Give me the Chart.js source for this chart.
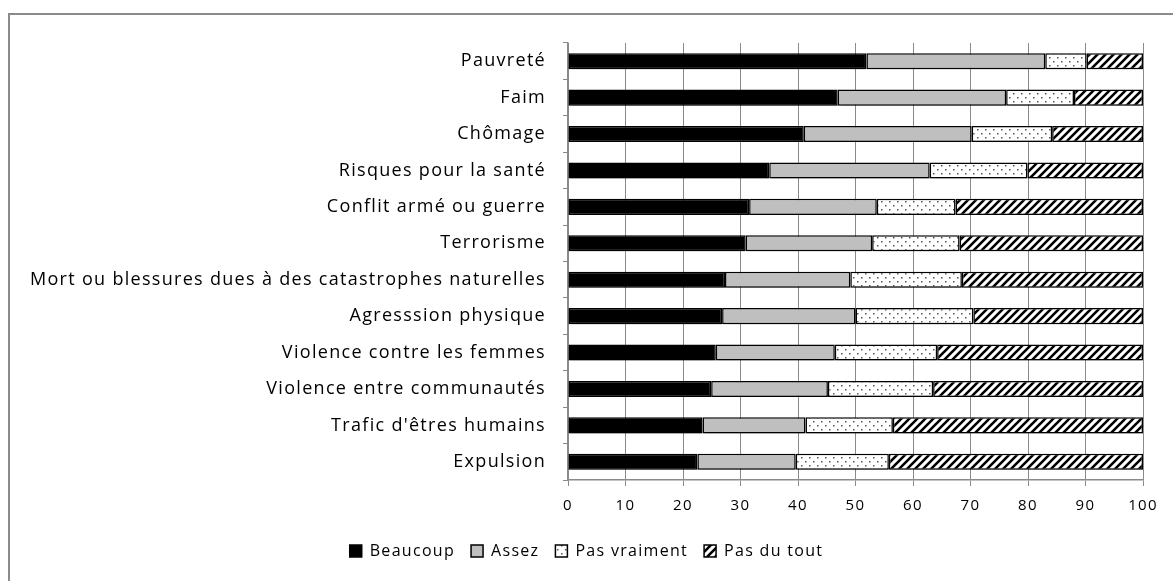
<!DOCTYPE HTML>
<html>
<head>
    <title>Insécurité</title>
    <meta charset="utf-8" />
    <script src="https://cdn.jsdelivr.net/npm/chart.js"></script>
    <style>
        html, body {
            margin: 0;
            padding: 0;
            background: #fff;
            overflow: hidden;
        }
        #frame {
            position: absolute;
            left: 8px;
            top: 13px;
            width: 1200px;
            height: 600px;
            border: 2px solid #8a8a8a;
        }
        #chartBox {
            position: absolute;
            left: 0;
            top: 0;
            width: 1173px;
            height: 581px;
        }
    </style>
</head>
<body>

<div id="frame"></div>
<div id="chartBox">
    <canvas id="riskChart"></canvas>
</div>

<script>
    const categories = [
        'Pauvreté', 'Faim', 'Chômage', 'Risques pour la santé', 'Conflit armé ou guerre',
        'Terrorisme', 'Mort ou blessures dues à des catastrophes naturelles', 'Agresssion physique',
        'Violence contre les femmes', 'Violence entre communautés', "Trafic d'êtres humains", 'Expulsion'
    ];
    const beaucoup    = [51.9, 46.9, 41.0, 35.0, 31.5, 30.9, 27.3, 26.8, 25.7, 24.9, 23.4, 22.5];
    const assez       = [31.1, 29.3, 29.2, 27.9, 22.2, 22.0, 21.8, 23.2, 20.7, 20.3, 17.9, 17.1];
    const pasVraiment = [7.2, 11.8, 14.0, 17.0, 13.7, 15.2, 19.4, 20.5, 17.8, 18.3, 15.2, 16.2];
    const pasDuTout   = [9.8, 12.0, 15.8, 20.1, 32.6, 31.9, 31.5, 29.5, 35.8, 36.5, 43.5, 44.2];
    const xTicks = [0, 10, 20, 30, 40, 50, 60, 70, 80, 90, 100];

    const FONT = "'Open Sans', sans-serif";

    // motifs de remplissage
    function dotPattern() {
        const c = document.createElement('canvas');
        c.width = 8; c.height = 8;
        const g = c.getContext('2d');
        g.fillStyle = '#fff';
        g.fillRect(0, 0, 8, 8);
        g.fillStyle = '#555';
        g.fillRect(1, 1, 1.5, 1.5);
        g.fillRect(5, 5, 1.5, 1.5);
        return g.createPattern(c, 'repeat');
    }

    function stripePattern() {
        const c = document.createElement('canvas');
        c.width = 8; c.height = 8;
        const g = c.getContext('2d');
        g.fillStyle = '#fff';
        g.fillRect(0, 0, 8, 8);
        g.strokeStyle = '#000';
        g.lineWidth = 2.6;
        g.beginPath();
        g.moveTo(-2, 10); g.lineTo(10, -2);
        g.moveTo(-6, 6); g.lineTo(6, -6);
        g.moveTo(2, 14); g.lineTo(14, 2);
        g.stroke();
        return g.createPattern(c, 'repeat');
    }

    // texte un peu plus large (comme Calibri étiré dans l'original)
    const spacingPlugin = {
        id: 'spacing',
        beforeLayout(chart) { chart.ctx.letterSpacing = '1.3px'; },
        beforeDraw(chart) { chart.ctx.letterSpacing = '1.3px'; }
    };

    const shadowPlugin = {
        id: 'barShadow',
        beforeDatasetsDraw(chart) {
            const ctx = chart.ctx;
            ctx.save();
            ctx.shadowColor = 'rgba(0,0,0,0.3)';
            ctx.shadowBlur = 5;
            ctx.shadowOffsetX = 1;
            ctx.shadowOffsetY = 3;
        },
        afterDatasetsDraw(chart) {
            chart.ctx.restore();
        }
    };

    function makeSet(label, data, fill) {
        return {
            label: label,
            data: data,
            backgroundColor: fill,
            borderColor: '#000',
            borderWidth: 1.5,
            borderSkipped: false,
            barPercentage: 0.44,
            categoryPercentage: 1
        };
    }

    const ctx = document.getElementById('riskChart').getContext('2d');
    const chart = new Chart(ctx, {
        type: 'bar',
        data: {
            labels: categories,
            datasets: [
                makeSet('Beaucoup', beaucoup, '#000'),
                makeSet('Assez', assez, '#bfbfbf'),
                makeSet('Pas vraiment', pasVraiment, dotPattern()),
                makeSet('Pas du tout', pasDuTout, stripePattern())
            ]
        },
        plugins: [spacingPlugin, shadowPlugin],
        options: {
            indexAxis: 'y',
            responsive: true,
            maintainAspectRatio: false,
            animation: false,
            layout: {
                padding: { top: 43, right: 30, bottom: 12, left: 30 }
            },
            plugins: {
                legend: {
                    position: 'bottom',
                    labels: {
                        font: { family: FONT, size: 16 },
                        color: '#000',
                        boxWidth: 12,
                        boxHeight: 12,
                        padding: 16
                    }
                },
                tooltip: { enabled: false }
            },
            scales: {
                x: {
                    stacked: true,
                    min: 0,
                    max: 100,
                    afterBuildTicks: (scale) => {
                        scale.ticks = xTicks.map(v => ({ value: v }));
                    },
                    afterFit: (scale) => { scale.height = 47; },
                    grid: {
                        color: '#8a8a8a',
                        lineWidth: 1,
                        tickLength: 6
                    },
                    border: { color: '#8a8a8a', width: 1.5 },
                    ticks: {
                        font: { family: FONT, size: 15 },
                        color: '#000',
                        padding: 11
                    }
                },
                y: {
                    stacked: true,
                    afterFit: (scale) => {
                        scale.width = 538;
                        scale.paddingTop = 0;
                        scale.paddingBottom = 0;
                    },
                    grid: {
                        drawOnChartArea: false,
                        offset: true,
                        color: '#8a8a8a',
                        tickLength: 5
                    },
                    border: { color: '#8a8a8a', width: 1.5 },
                    ticks: {
                        font: { family: FONT, size: 18 },
                        color: '#000',
                        padding: 17,
                        autoSkip: false
                    }
                }
            }
        }
    });
</script>

</body>
</html>
